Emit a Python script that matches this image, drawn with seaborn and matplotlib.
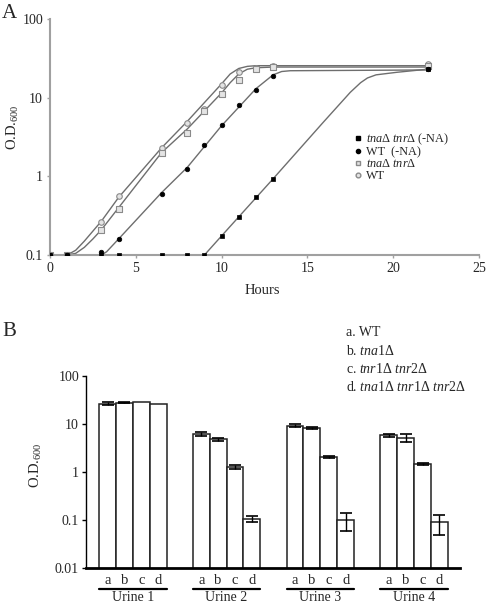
import numpy as np
import pandas as pd
import matplotlib
matplotlib.use("Agg")
import matplotlib.pyplot as plt
import matplotlib.transforms as mtransforms
from matplotlib.lines import Line2D
import seaborn as sns

sns.set_style("white")
plt.rcParams["font.family"] = ["Liberation Serif", "DejaVu Serif"]
plt.rcParams["mathtext.fontset"] = "custom"
plt.rcParams["mathtext.rm"] = "Liberation Serif"
plt.rcParams["mathtext.it"] = "Liberation Serif:italic"

# ---- Panel A: growth curves (measured points) ----
hours_nam = [0, 1, 3, 4, 6.5, 8, 9, 10, 11, 12, 13, 22]
od_tna_nam = [0.1, 0.1, 0.1, 0.1, 0.1, 0.1, 0.1, 0.175, 0.3, 0.54, 0.93, 23]
od_wt_nam = [0.1, 0.1, 0.11, 0.16, 0.6, 1.25, 2.5, 4.5, 8.0, 12.7, 19, 23]
hours_na = [0, 1, 3, 4, 6.5, 8, 9, 10, 11, 12, 13, 22]
od_tna = [0.1, 0.1, 0.21, 0.38, 2.0, 3.6, 6.8, 11.2, 17, 23, 24.5, 25]
od_wt = [0.1, 0.1, 0.26, 0.57, 2.3, 4.7, 7.2, 14.5, 21, 24, 25, 26.5]

# fitted curves, vertices
fit_tna_nam_x = [0, 9, 10, 13, 14.6, 15.9, 17.5, 18.1, 18.5, 19, 20.2, 22]
fit_tna_nam_y = [0.1, 0.1, 0.175, 0.93, 2.3, 4.8, 11.7, 15.5, 17.8, 19.5, 21, 23]
fit_wt_nam_x = [0, 3, 3.3, 4, 6.5, 8, 10, 12, 13, 13.5, 14, 22]
fit_wt_nam_y = [0.1, 0.1, 0.11, 0.16, 0.62, 1.3, 4.4, 13, 19.5, 21.5, 22, 22.5]
fit_tna_x = [0, 1, 1.5, 2, 2.5, 3, 4, 6.5, 8, 10, 10.5, 11, 11.5, 12, 13, 22]
fit_tna_y = [0.1, 0.1, 0.105, 0.125, 0.16, 0.21, 0.4, 2.0, 4.0, 11.5, 15.5, 20, 23, 24, 24.5, 24.5]
fit_wt_x = [0, 1, 1.5, 2, 3, 4, 6.5, 8, 10, 10.5, 11, 11.5, 12, 13, 22]
fit_wt_y = [0.1, 0.1, 0.115, 0.15, 0.27, 0.54, 2.3, 5.0, 15, 20, 23.5, 25, 25.5, 25.5, 25.5]

# ---- Panel B: urine growth ----
urines = ["Urine 1", "Urine 2", "Urine 3", "Urine 4"]
strains = ["a", "b", "c", "d"]
od_a = [26.7, 6.3, 9.3, 5.8]
od_b = [28, 4.8, 8.2, 5.2]
od_c = [29, 1.25, 2.04, 1.45]
od_d = [26.7, 0.107, 0.10, 0.089]
err_a = [2.0, 0.6, 0.5, 0.35]
err_b = [1.0, 0.3, 0.5, 1.0]
err_c = [0.0, 0.12, 0.08, 0.08]
err_d = [0.0, 0.015, 0.04, 0.04]

fig = plt.figure(figsize=(4.86, 6.06), dpi=100)
W, H = 486, 606

def px_axes(l, t, r, b):
    return fig.add_axes([l / W, 1 - b / H, (r - l) / W, (b - t) / H])

# ================= Panel A =================
axA = px_axes(50, 19, 479, 255)
line_col = "#6e6e6e"
for fx, fy in [(fit_tna_nam_x, fit_tna_nam_y), (fit_wt_nam_x, fit_wt_nam_y),
               (fit_tna_x, fit_tna_y), (fit_wt_x, fit_wt_y)]:
    sns.lineplot(x=fx, y=fy, ax=axA, color=line_col, lw=1.0, sort=False)

sns.scatterplot(x=hours_na, y=od_wt, ax=axA, marker="o", s=16,
                facecolor="#e4e4e4", edgecolor="#8a8a8a", linewidth=0.8, zorder=4)
sns.scatterplot(x=hours_na, y=od_tna, ax=axA, marker="s", s=14,
                facecolor="#e4e4e4", edgecolor="#8a8a8a", linewidth=0.8, zorder=4)
sns.scatterplot(x=hours_nam, y=od_wt_nam, ax=axA, marker="o", s=11,
                color="black", edgecolor="black", linewidth=0.5, zorder=5)
sns.scatterplot(x=hours_nam, y=od_tna_nam, ax=axA, marker="s", s=12,
                color="black", edgecolor="black", linewidth=0.5, zorder=5)

axA.set_yscale("log")
axA.set_xlim(0, 25)
axA.set_ylim(0.1, 100)
axA.set_xticks([0, 5, 10, 15, 20, 25])
axA.set_xticklabels(["0", "5", "10", "15", "20", "25"])
axA.set_yticks([0.1, 1, 10, 100])
axA.set_yticklabels(["0.1", "1", "10", "100"])
axA.minorticks_off()
for s in ["top", "right"]:
    axA.spines[s].set_visible(False)
for s in ["left", "bottom"]:
    axA.spines[s].set_color("#a0a0a0")
    axA.spines[s].set_linewidth(1.5)
axA.tick_params(axis="both", which="major", length=2, width=1, color="#a0a0a0",
                labelsize=10, pad=3, left=True, bottom=True, direction="out")
axA.set_xlabel("Hours", fontsize=10.5)
axA.xaxis.set_label_coords(0.495, -0.125)
axA.set_ylabel("")
fig.text(13 / W, 1 - 127 / H, "O.D.$_{600}$", fontsize=10.5, rotation=90,
         ha="center", va="center")

# legend of panel A, row by row
leg_marks = [("s", "black", "black", 3.4), ("o", "black", "black", 3.0),
             ("s", "#e4e4e4", "#8a8a8a", 3.4), ("o", "#e4e4e4", "#8a8a8a", 3.4)]
leg_labels = [r"$\it{tna}$$\Delta$ $\it{tnr}$$\Delta$ (-NA)", "WT  (-NA)",
              r"$\it{tna}$$\Delta$ $\it{tnr}$$\Delta$", "WT"]
leg_rows = [139, 152, 164, 176]
for (mk, fc, ec, ms), lab, yy in zip(leg_marks, leg_labels, leg_rows):
    fig.add_artist(Line2D([358 / W], [1 - (yy - 1) / H], ls="", marker=mk, ms=ms,
                          mfc=fc, mec=ec, transform=fig.transFigure))
    fig.text(366 / W, 1 - yy / H, lab, fontsize=8.8, ha="left", va="center")

fig.text(2 / W, 1 - 18 / H, "A", fontsize=15, ha="left", va="baseline")

# ================= Panel B =================
axB = px_axes(86, 376, 460, 568)
df = pd.DataFrame({
    "urine": np.repeat(urines, 4),
    "strain": strains * 4,
    "od": np.array([od_a, od_b, od_c, od_d]).T.ravel(),
    "err": np.array([err_a, err_b, err_c, err_d]).T.ravel(),
})
sns.barplot(data=df, x="urine", y="od", hue="strain", ax=axB, width=0.72, gap=0,
            palette={k: "white" for k in strains}, edgecolor="#222222", linewidth=1.1,
            errorbar=None, legend=False)
axB.set_yscale("log")
axB.set_ylim(0.01, 100)
axB.set_xlim(-0.5, 3.49)

centers, tick_lab = [], []
bar_conts = list(axB.containers)
for i, cont in enumerate(bar_conts):
    for j, p in enumerate(cont.patches):
        cx = p.get_x() + p.get_width() / 2
        row = df[(df.urine == urines[j]) & (df.strain == strains[i])].iloc[0]
        if row.err > 0:
            axB.errorbar(cx, row.od, yerr=row.err, color="black", lw=1.0,
                         capsize=4, capthick=1.2, zorder=5)
        centers.append(cx)
        tick_lab.append(strains[i])

axB.set_xticks(centers)
axB.set_xticklabels(tick_lab)
axB.set_yticks([0.01, 0.1, 1, 10, 100])
axB.set_yticklabels(["0.01", "0.1", "1", "10", "100"])
axB.minorticks_off()
for s in ["top", "right"]:
    axB.spines[s].set_visible(False)
axB.spines["left"].set_color("black")
axB.spines["left"].set_linewidth(1.0)
axB.spines["bottom"].set_color("black")
axB.spines["bottom"].set_linewidth(2.0)
axB.tick_params(axis="x", length=0, labelsize=10.5, pad=4)
axB.tick_params(axis="y", length=3, width=1, color="black", labelsize=10, pad=2,
                left=True, direction="out")
axB.set_xlabel("")
axB.set_ylabel("")
fig.text(36 / W, 1 - 465 / H, "O.D.$_{600}$", fontsize=10.5, rotation=90,
         ha="center", va="center")

trans = mtransforms.blended_transform_factory(axB.transData, axB.transAxes)
for j, u in enumerate(urines):
    axB.plot([j - 0.36, j + 0.36], [-0.11, -0.11], color="black", lw=1.6,
             transform=trans, clip_on=False)
    axB.text(j, -0.19, u, transform=trans, ha="center", va="bottom", fontsize=10)

legend_B = ["a. WT", r"b. $\it{tna1}$$\Delta$", r"c. $\it{tnr1}$$\Delta$ $\it{tnr2}$$\Delta$",
            r"d. $\it{tna1}$$\Delta$ $\it{tnr1}$$\Delta$ $\it{tnr2}$$\Delta$"]
for k, t in enumerate(legend_B):
    fig.text(346 / W, 1 - (333 + k * 18) / H, t, fontsize=10, ha="left", va="center")

fig.text(2 / W, 1 - 336 / H, "B", fontsize=15, ha="left", va="baseline")

fig.savefig("out.png", dpi=100)
